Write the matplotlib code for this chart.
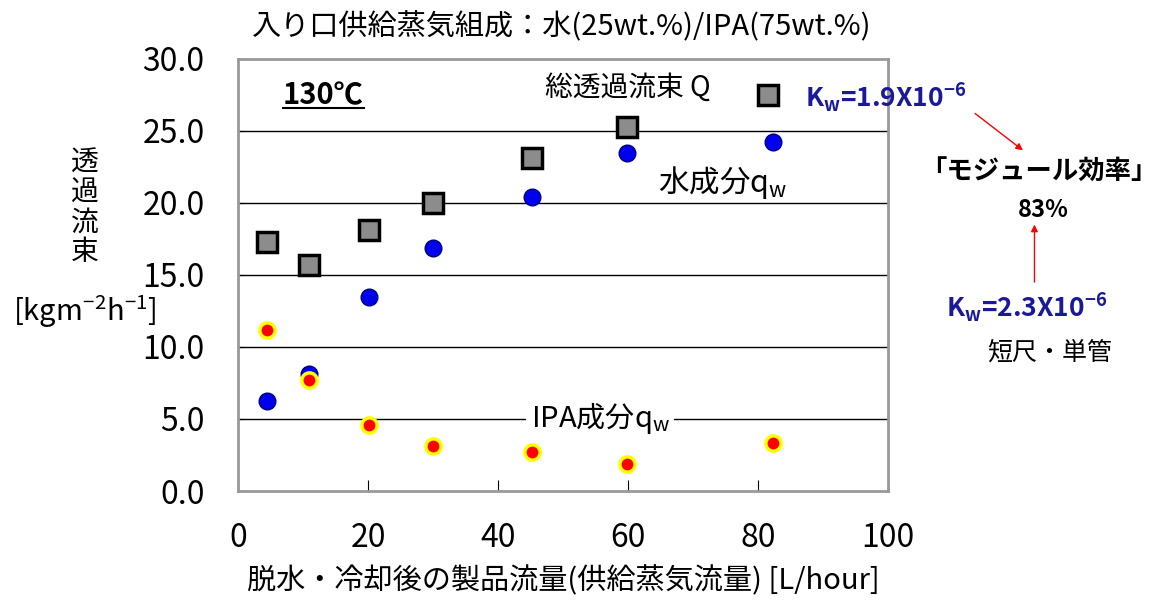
import numpy as np
import matplotlib.pyplot as plt

plt.rcParams['font.family'] = ['Noto Sans CJK JP', 'DejaVu Sans']
plt.rcParams['mathtext.default'] = 'regular'

# flow of product (L/hour)
flow = [4.5, 10.9, 20.2, 30.0, 45.2, 59.8, 81.5]
flow_w = [4.5, 10.9, 20.2, 30.0, 45.2, 59.8, 82.3]
# total permeation flux Q
total_q = [17.3, 15.7, 18.1, 20.0, 23.1, 25.3, 27.5]
# water component
water_q = [6.25, 8.1, 13.5, 16.9, 20.4, 23.5, 24.2]
# IPA component
ipa_q = [11.2, 7.7, 4.6, 3.1, 2.7, 1.9, 3.3]

yticks = [0, 5, 10, 15, 20, 25, 30]
xticks = [0, 20, 40, 60, 80, 100]

fig = plt.figure(figsize=(11.61, 6.01), dpi=100)
ax = fig.add_axes([0.205, 0.183, 0.56, 0.719])

for y in yticks[1:-1]:
    ax.axhline(y, color='black', lw=1, zorder=1)

ax.plot(flow, total_q, 's', ms=14, mfc='#8c8c8c', mec='black', mew=2.5, zorder=3)
ax.plot(flow_w, water_q, 'o', ms=12, mfc='#0000ee', mec='#000080', mew=1, zorder=3)
ax.plot(flow_w, ipa_q, 'o', ms=11, mfc='red', mec='yellow', mew=2.5, zorder=4)

ax.set_xlim(0, 100)
ax.set_ylim(0, 30)
ax.set_xticks(xticks)
ax.set_yticks(yticks)
ax.set_yticklabels([f'{v:.1f}' for v in yticks])
ax.tick_params(axis='x', direction='in', length=8, pad=22, labelsize=23)
ax.tick_params(axis='y', direction='in', length=4, pad=24, labelsize=23)
for s in ax.spines.values():
    s.set_color('#999999')
    s.set_linewidth(2)

ax.set_xlabel('脱水・冷却後の製品流量(供給蒸気流量) [L/hour]', fontsize=21, labelpad=9)
fig.text(0.484, 0.955, '入り口供給蒸気組成：水(25wt.%)/IPA(75wt.%)', fontsize=21,
         ha='center', va='center')

fig.text(0.073, 0.655, '透\n過\n流\n束', fontsize=20, ha='center', va='center', linespacing=1.0)
fig.text(0.073, 0.481, '[kgm$^{-2}$h$^{-1}$]', fontsize=21, ha='center', va='center')

ax.text(6.9, 27.5, '130℃', fontsize=21, fontweight='bold', ha='left', va='center')
ax.plot([6.9, 19.4], [26.6, 26.6], color='black', lw=1.5, clip_on=False)
ax.text(60, 28.0, '総透過流束 Q', fontsize=20, ha='center', va='center')
ax.text(74.6, 21.4, '水成分q$_w$', fontsize=22, ha='center', va='center')
ax.text(55.7, 5.07, 'IPA成分q$_w$', fontsize=21, ha='center', va='center',
        bbox=dict(facecolor='white', edgecolor='none', pad=3))

navy = '#1a1a99'
fig.text(0.693, 0.839, 'K$_w$=1.9X10$^{-6}$', fontsize=19, fontweight='bold', color=navy,
         ha='left', va='center')
fig.text(0.895, 0.714, '「モジュール効率」', fontsize=19, fontweight='bold', ha='center', va='center')
fig.text(0.899, 0.650, '83%', fontsize=17, fontweight='bold', ha='center', va='center')
fig.text(0.884, 0.489, 'K$_w$=2.3X10$^{-6}$', fontsize=19, fontweight='bold', color=navy,
         ha='center', va='center')
fig.text(0.904, 0.414, '短尺・単管', fontsize=18, ha='center', va='center')

fig.add_artist(plt.Annotation('', xy=(0.883, 0.747), xytext=(0.838, 0.814),
                              xycoords='figure fraction',
                              arrowprops=dict(arrowstyle='-|>', color='red', lw=1)))
fig.add_artist(plt.Annotation('', xy=(0.891, 0.631), xytext=(0.891, 0.526),
                              xycoords='figure fraction',
                              arrowprops=dict(arrowstyle='-|>', color='red', lw=1)))

fig.savefig('out.png', dpi=100)
